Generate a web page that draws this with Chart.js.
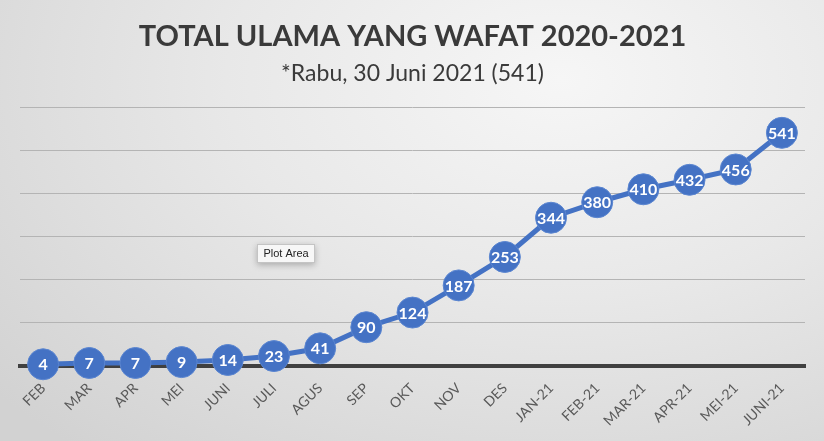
<!DOCTYPE html>
<html>
<head>
<meta charset="utf-8">
<script src="https://cdn.jsdelivr.net/npm/chart.js@4.4.0/dist/chart.umd.min.js"></script>
<style>
    html, body { margin: 0; padding: 0; }
    #wrap {
        width: 824px;
        height: 441px;
        background: radial-gradient(ellipse 90% 110% at 68% 18%, #f6f6f6 0%, #e8e8e8 45%, #d2d2d2 100%);
    }
</style>
</head>
<body>
<div id="wrap"><canvas id="chart" width="824" height="441"></canvas></div>
<script>
// Data kumulatif ulama wafat
const months = ['FEB', 'MAR', 'APR', 'MEI', 'JUNI', 'JULI', 'AGUS', 'SEP', 'OKT', 'NOV', 'DES',
    'JAN-21', 'FEB-21', 'MAR-21', 'APR-21', 'MEI-21', 'JUNI-21'];
const totals = [4, 7, 7, 9, 14, 23, 41, 90, 124, 187, 253, 344, 380, 410, 432, 456, 541];

const BLUE = '#4472C4';

// Label angka di dalam titik
const pointLabels = {
    id: 'pointLabels',
    afterDatasetsDraw(chart) {
        const ctx = chart.ctx;
        const meta = chart.getDatasetMeta(0);
        ctx.save();
        ctx.fillStyle = '#ffffff';
        ctx.font = 'bold 16px Lato';
        ctx.textAlign = 'center';
        ctx.textBaseline = 'middle';
        meta.data.forEach((pt, i) => {
            ctx.fillText(totals[i], pt.x, pt.y + 1);
        });
        ctx.restore();
    }
};

// Kotak "Plot Area" seperti di tangkapan layar
const plotAreaTip = {
    id: 'plotAreaTip',
    afterDraw(chart) {
        const ctx = chart.ctx;
        ctx.save();
        ctx.shadowColor = 'rgba(0,0,0,0.25)';
        ctx.shadowBlur = 6;
        ctx.shadowOffsetY = 2;
        ctx.fillStyle = '#f7f7f7';
        ctx.fillRect(257, 244, 58, 19);
        ctx.shadowColor = 'transparent';
        ctx.strokeStyle = '#c4c4c4';
        ctx.lineWidth = 1;
        ctx.strokeRect(257.5, 244.5, 57, 18);
        ctx.fillStyle = '#222';
        ctx.font = '11px "Liberation Sans"';
        ctx.textAlign = 'center';
        ctx.textBaseline = 'middle';
        ctx.fillText('Plot Area', 286, 254);
        ctx.restore();
    }
};

new Chart(document.getElementById('chart'), {
    type: 'line',
    data: {
        labels: months,
        datasets: [{
            data: totals,
            borderColor: BLUE,
            borderWidth: 5,
            backgroundColor: BLUE,
            pointBackgroundColor: BLUE,
            pointBorderColor: '#5a85d0',
            pointBorderWidth: 1,
            pointRadius: 15.5,
            pointHoverRadius: 15.5,
            tension: 0,
            clip: false
        }]
    },
    options: {
        responsive: false,
        animation: false,
        layout: {
            padding: { left: 20, right: 19, top: 0, bottom: 0 }
        },
        plugins: {
            legend: { display: false },
            tooltip: { enabled: false },
            title: {
                display: true,
                text: 'TOTAL ULAMA YANG WAFAT 2020-2021',
                color: '#3a3a3a',
                font: { family: 'Lato', size: 29, weight: 'bold' },
                padding: { top: 19, bottom: 6 }
            },
            subtitle: {
                display: true,
                text: '*Rabu, 30 Juni 2021 (541)',
                color: '#3a3a3a',
                font: { family: 'Lato', size: 23 },
                padding: { top: 0, bottom: 20 }
            }
        },
        scales: {
            x: {
                offset: true,
                grid: { display: false },
                border: { display: true, color: '#404040', width: 4 },
                ticks: {
                    color: '#595959',
                    font: { family: 'Lato', size: 14 },
                    maxRotation: 45,
                    minRotation: 45,
                    autoSkip: false,
                    padding: 6
                },
                afterFit(scale) { scale.height = 75; }
            },
            y: {
                min: 0,
                max: 600,
                ticks: { display: false, stepSize: 100 },
                grid: { color: '#b4b4b4', lineWidth: 1, drawTicks: false },
                border: { display: false }
            }
        }
    },
    plugins: [pointLabels, plotAreaTip]
});
</script>
</body>
</html>
